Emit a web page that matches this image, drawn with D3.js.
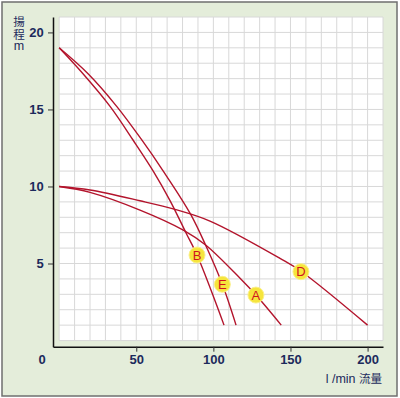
<!DOCTYPE html>
<html>
<head>
<meta charset="utf-8">
<script src="https://cdn.jsdelivr.net/npm/d3@7"></script>
<style>
  body { margin: 0; background: #fff; }
  svg { display: block; }
</style>
</head>
<body>
<svg id="chart"></svg>
<script>
// pump curves: flow (l/min) vs head (m)
const flowA = [0, 20, 52.4, 80.5, 95, 117.3, 127.6, 144];
const headA = [10, 9.62, 8.47, 7.17, 6.2, 4.04, 2.95, 1];

const flowB = [0, 15.6, 33, 48, 61, 71.8, 82.2, 89.4, 101, 106.9];
const headB = [19, 17.3, 15.2, 13.0, 11.0, 9.1, 7.0, 5.55, 2.6, 1];

const flowD = [0, 20, 52.4, 75.1, 97.8, 143.2, 156.8, 200];
const headD = [10, 9.77, 9.07, 8.51, 7.75, 5.33, 4.5, 1];

const flowE = [0, 18.9, 37.3, 53, 67.5, 85.3, 95.6, 105.8, 114.7];
const headE = [19, 17.3, 15.2, 13.1, 11.0, 8.19, 6.05, 3.65, 1];

const labelNames = ["A", "B", "D", "E"];
const labelFlow = [127.6, 89.4, 156.8, 105.8];
const labelHead = [2.95, 5.55, 4.47, 3.65];

const xTicks = [50, 100, 150, 200];
const yTicks = [5, 10, 15, 20];

const series = [
  { flow: flowA, head: headA },
  { flow: flowB, head: headB },
  { flow: flowD, head: headD },
  { flow: flowE, head: headE },
];

const width = 400;
const height = 398;
const navy = "#1c2a5c";
const curveColor = "#b3142c";
const font = "'Liberation Sans', Arial, sans-serif";
const cjkFont = "'Noto Sans CJK JP', " + font;

const svg = d3.select("#chart").attr("width", width).attr("height", height);

// frame and background
svg.append("rect")
  .attr("x", 2).attr("y", 2)
  .attr("width", 395).attr("height", 394)
  .attr("fill", "#e4edda")
  .attr("stroke", "#6f6f6f")
  .attr("stroke-width", 1.5);

const xscale = d3.scaleLinear().domain([-4, 210]).range([53, 383]);
const yscale = d3.scaleLinear().domain([-0.4, 21]).range([346.7, 17]);

// white plot area
svg.append("rect")
  .attr("x", xscale(0))
  .attr("y", yscale(21))
  .attr("width", xscale(210) - xscale(0))
  .attr("height", yscale(0) - yscale(21))
  .attr("fill", "#ffffff");

// grid
const grid = svg.append("g").attr("stroke", "#d8d8d8").attr("stroke-width", 1);
grid.selectAll(".vg")
  .data(d3.range(0, 211, 10))
  .join("line")
  .attr("x1", (d) => xscale(d)).attr("x2", (d) => xscale(d))
  .attr("y1", yscale(0)).attr("y2", yscale(21));
grid.selectAll(".hg")
  .data(d3.range(0, 22, 1))
  .join("line")
  .attr("y1", (d) => yscale(d)).attr("y2", (d) => yscale(d))
  .attr("x1", xscale(0)).attr("x2", xscale(210));

// axes
const xaxis = d3.axisBottom(xscale).tickValues(xTicks).tickSize(5).tickSizeOuter(0);
const yaxis = d3.axisLeft(yscale).tickValues(yTicks).tickSize(5).tickSizeOuter(0);

const xg = svg.append("g")
  .attr("transform", `translate(0, ${yscale.range()[0]})`)
  .call(xaxis);
const yg = svg.append("g")
  .attr("transform", `translate(${xscale.range()[0]}, 0)`)
  .call(yaxis);

[xg, yg].forEach((g) => {
  g.select(".domain").attr("stroke", "#111").attr("stroke-width", 1.5);
  g.selectAll(".tick line").attr("stroke", "#333");
  g.selectAll(".tick text")
    .attr("fill", navy)
    .style("font-family", font)
    .style("font-size", "13px")
    .style("font-weight", "bold");
});
yg.selectAll(".tick text").attr("dx", "-0.1em");

// origin label
svg.append("text")
  .attr("x", 42).attr("y", 364)
  .attr("text-anchor", "middle")
  .attr("fill", navy)
  .style("font-family", font)
  .style("font-size", "13px")
  .style("font-weight", "bold")
  .text("0");

// y title: "揚程" set vertically, unit below
svg.append("text")
  .attr("x", 19).attr("y", 16)
  .attr("fill", navy)
  .style("font-family", cjkFont)
  .style("font-size", "11.5px")
  .style("writing-mode", "vertical-rl")
  .style("letter-spacing", "1px")
  .text("揚程");

svg.append("text")
  .attr("x", 19).attr("y", 50)
  .attr("text-anchor", "middle")
  .attr("fill", navy)
  .style("font-family", font)
  .style("font-size", "12.5px")
  .text("m");

// x title
const xt = svg.append("text")
  .attr("x", 382).attr("y", 383)
  .attr("text-anchor", "end")
  .attr("fill", navy)
  .style("font-family", font)
  .style("font-size", "12.5px");
xt.append("tspan").text("l /min  ");
xt.append("tspan").style("font-family", cjkFont).style("font-size", "11.5px").text("流量");

// curves
const line = d3.line()
  .x((d) => xscale(d[0]))
  .y((d) => yscale(d[1]))
  .curve(d3.curveCatmullRom.alpha(0.5));

svg.append("g")
  .selectAll("path")
  .data(series)
  .join("path")
  .attr("d", (s) => line(s.flow.map((f, i) => [f, s.head[i]])))
  .attr("fill", "none")
  .attr("stroke", curveColor)
  .attr("stroke-width", 1.4);

// curve labels
const labels = svg.append("g")
  .selectAll("g")
  .data(labelNames)
  .join("g")
  .attr("transform", (d, i) => `translate(${xscale(labelFlow[i])}, ${yscale(labelHead[i])})`);

labels.append("circle")
  .attr("r", 8)
  .attr("fill", "#f6e53c")
  .attr("stroke", "#fbf08a")
  .attr("stroke-width", 1);

labels.append("text")
  .attr("text-anchor", "middle")
  .attr("dy", "0.36em")
  .attr("fill", "#d0141e")
  .style("font-family", font)
  .style("font-size", "13px")
  .text((d) => d);
</script>
</body>
</html>
